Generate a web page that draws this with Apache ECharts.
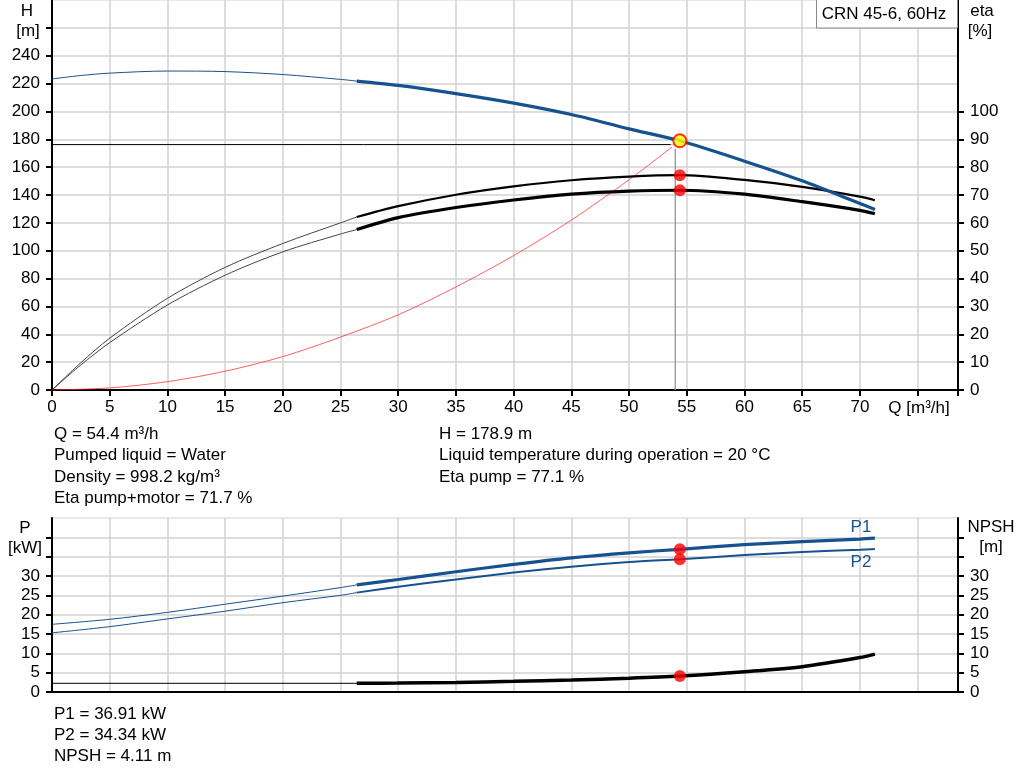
<!DOCTYPE html>
<html><head><meta charset="utf-8">
<script src="https://cdn.jsdelivr.net/npm/echarts@6/dist/echarts.min.js"></script>
<style>html,body{margin:0;padding:0;background:#fff}#c{width:1024px;height:781px}</style>
</head><body><div id="c"></div>
<script>
// ---- data ----
const qLow = [0, 2.5, 5, 10, 15, 20, 25, 26.4];
const qHigh = [26.4, 30, 35, 40, 45, 50, 54.4, 60, 65, 70, 71.3];
const headLow = [223.3, 225.8, 227.5, 229.0, 228.6, 226.5, 223.0, 221.8];
const headHigh = [221.8, 218.7, 212.8, 206.0, 197.8, 187.5, 178.9, 164.3, 150.2, 133.9, 129.6];
const etaPumpLow = [0, 9.8, 18.6, 32.9, 44.0, 52.6, 60.0, 62.1];
const etaPumpHigh = [62.1, 66.0, 70.1, 73.1, 75.3, 76.6, 77.1, 75.4, 72.9, 69.4, 68.1];
const etaTotLow = [0, 9.0, 17.0, 30.5, 41.2, 49.6, 56.0, 57.6];
const etaTotHigh = [57.6, 61.9, 65.5, 68.2, 70.3, 71.4, 71.7, 70.3, 67.6, 64.5, 63.3];
const qSys = [0, 5, 10, 15, 20, 25, 30, 35, 40, 45, 50, 54.2];
const hSys = [0, 1.5, 6, 13.5, 24, 38, 54, 74, 96.5, 122, 151, 177.5];
const qPLow = [0, 5, 10, 15, 20, 25, 26.4];
const p1Low = [17.5, 18.8, 20.6, 22.7, 24.8, 27.0, 27.7];
const p1High = [27.7, 29.1, 31.1, 33.0, 34.7, 36.0, 36.91, 38.1, 38.9, 39.55, 39.8];
const p2Low = [15.3, 16.9, 18.9, 20.9, 23.1, 25.0, 25.7];
const p2High = [25.7, 27.2, 29.1, 30.9, 32.4, 33.6, 34.34, 35.4, 36.2, 36.8, 37.0];
const qNpshLow = [0, 26.4];
const npshLow = [2.25, 2.25];
const npshHigh = [2.25, 2.3, 2.45, 2.75, 3.1, 3.55, 4.11, 5.25, 6.55, 8.9, 9.8];
const duty = {q: 54.0, h: 176.2};
const op = {q: 54.4, h: 178.9, etaPump: 77.1, etaTot: 71.7, p1: 36.91, p2: 34.34, npsh: 4.11};
const infoLeft = ['Q = 54.4 m³/h', 'Pumped liquid = Water', 'Density = 998.2 kg/m³', 'Eta pump+motor = 71.7 %'];
const infoRight = ['H = 178.9 m', 'Liquid temperature during operation = 20 °C', 'Eta pump = 77.1 %'];
const infoBottom = ['P1 = 36.91 kW', 'P2 = 34.34 kW', 'NPSH = 4.11 m'];
const hTicks = [0,20,40,60,80,100,120,140,160,180,200,220,240,260];
const hLabels = [0,20,40,60,80,100,120,140,160,180,200,220,240];
const etaTicks = [0,10,20,30,40,50,60,70,80,90,100];
const pTicks = [0,5,10,15,20,25,30,35,40];
const pLabels = [0,5,10,15,20,25,30];

// ---- helpers ----
const zip = (xs, ys) => xs.map((x, i) => [x, ys[i]]);
const FONT = 'Liberation Sans, Arial, sans-serif';
const FS = 17;
const BLUE = '#15528f';
const GRIDC = '#d2d2d2';

function line(name, xi, yi, data, color, width, extra) {
  return Object.assign({
    name, type: 'line', xAxisIndex: xi, yAxisIndex: yi, data,
    showSymbol: false, symbol: 'none', smooth: 0.3, silent: true,
    lineStyle: {color, width}, z: 3
  }, extra || {});
}
function dot(xi, yi, pt, color, size, extra) {
  return Object.assign({
    type: 'scatter', xAxisIndex: xi, yAxisIndex: yi, data: [pt],
    symbolSize: size, itemStyle: {color}, z: 10, silent: true
  }, extra || {});
}
const axisLineStyle = {show: true, lineStyle: {color: '#000', width: 2}};
const tickStyle = {show: true, length: 6, lineStyle: {color: '#000', width: 2}};
const lab = {color: '#000', fontSize: FS, fontFamily: FONT};

const chart = echarts.init(document.getElementById('c'), null, {renderer: 'canvas'});

const graphics = [];
function txt(text, x, y, align, color) {
  graphics.push({type: 'text', silent: true, z: 100,
    style: {text, x, y, fill: color || '#000', font: FS + 'px ' + FONT,
      align: align || 'left', verticalAlign: 'middle', textAlign: align || 'left', textVerticalAlign: 'middle'}});
}
// title box
graphics.push({type: 'rect', z: 90, silent: true, shape: {x: 816.5, y: -1, width: 141, height: 29},
  style: {fill: '#fff', stroke: '#8a8a8a', lineWidth: 1}});
txt('CRN 45-6, 60Hz', 884, 14, 'center');
txt('H', 27, 11, 'center');
txt('[m]', 28, 31, 'center');
txt('eta', 982, 11, 'center');
txt('[%]', 980, 31, 'center');
txt('Q [m³/h]', 919, 408, 'center');
txt('P', 25, 528, 'center');
txt('[kW]', 25, 548, 'center');
txt('NPSH', 991, 527, 'center');
txt('[m]', 991, 547, 'center');
txt('P1', 861, 527, 'center', BLUE);
txt('P2', 861, 562, 'center', BLUE);
const rowY = [434.5, 455.8, 477, 498.3];
infoLeft.forEach((t, i) => txt(t, 54, rowY[i]));
infoRight.forEach((t, i) => txt(t, 439, rowY[i]));
[714, 735.3, 756.6].forEach((y, i) => txt(infoBottom[i], 54, y));

const option = {
  animation: false,
  backgroundColor: '#fff',
  grid: [
    {left: 52, top: 0, width: 906, height: 390, show: true, borderColor: GRIDC, borderWidth: 1, backgroundColor: 'transparent'},
    {left: 52, top: 518, width: 906, height: 174, show: true, borderColor: GRIDC, borderWidth: 1, backgroundColor: 'transparent'}
  ],
  xAxis: [
    {type: 'value', gridIndex: 0, min: 0, max: 78.5, interval: 5,
      axisLine: axisLineStyle, axisTick: tickStyle,
      axisLabel: Object.assign({margin: 9, formatter: v => (v <= 70 ? String(v) : '')}, lab),
      splitLine: {show: true, lineStyle: {color: GRIDC, width: 1.5}}},
    {type: 'value', gridIndex: 1, min: 0, max: 78.5, interval: 5,
      axisLine: axisLineStyle, axisTick: {show: false}, axisLabel: {show: false},
      splitLine: {show: true, lineStyle: {color: GRIDC, width: 1.5}}}
  ],
  yAxis: [
    {type: 'value', gridIndex: 0, position: 'left', min: 0, max: 280, interval: 20,
      axisLine: axisLineStyle, axisTick: Object.assign({customValues: hTicks}, tickStyle),
      axisLabel: Object.assign({margin: 12, customValues: hLabels, formatter: v => (v <= 240 ? String(v) : '')}, lab),
      splitLine: {show: true, lineStyle: {color: GRIDC, width: 1.5}}},
    {type: 'value', gridIndex: 0, position: 'right', min: 0, max: 140, interval: 10,
      axisLine: axisLineStyle, axisTick: Object.assign({customValues: etaTicks}, tickStyle),
      axisLabel: Object.assign({margin: 12, customValues: etaTicks, formatter: v => (v <= 100 ? String(v) : '')}, lab),
      splitLine: {show: false}},
    {type: 'value', gridIndex: 1, position: 'left', min: 0, max: 45, interval: 5,
      axisLine: axisLineStyle, axisTick: Object.assign({customValues: pTicks}, tickStyle),
      axisLabel: Object.assign({margin: 12, customValues: pLabels, formatter: v => (v <= 30 ? String(v) : '')}, lab),
      splitLine: {show: true, lineStyle: {color: GRIDC, width: 1.5}}},
    {type: 'value', gridIndex: 1, position: 'right', min: 0, max: 45, interval: 5,
      axisLine: axisLineStyle, axisTick: Object.assign({customValues: pTicks}, tickStyle),
      axisLabel: Object.assign({margin: 12, customValues: pLabels, formatter: v => (v <= 30 ? String(v) : '')}, lab),
      splitLine: {show: false}}
  ],
  series: [
    // duty lines
    line('dutyH', 0, 0, [[0, duty.h], [duty.q, duty.h]], '#000', 1, {smooth: false, z: 2}),
    line('dutyV', 0, 0, [[duty.q, duty.h], [duty.q, 0]], '#8c8c8c', 1.2, {smooth: false, z: 2}),
    // system curve
    line('sys', 0, 0, zip(qSys, hSys), 'rgba(255,40,40,0.75)', 1, {smooth: 0.3, z: 2}),
    // efficiencies
    line('etaPumpLow', 0, 1, zip(qLow, etaPumpLow), '#444', 1),
    line('etaPumpHigh', 0, 1, zip(qHigh, etaPumpHigh), '#000', 2.2),
    line('etaTotLow', 0, 1, zip(qLow, etaTotLow), '#444', 1),
    line('etaTotHigh', 0, 1, zip(qHigh, etaTotHigh), '#000', 3.2),
    // head
    line('hLow', 0, 0, zip(qLow, headLow), BLUE, 1),
    line('hHigh', 0, 0, zip(qHigh, headHigh), BLUE, 3.2, {z: 4}),
    // power
    line('p1Low', 1, 2, zip(qPLow, p1Low), BLUE, 1),
    line('p1High', 1, 2, zip(qHigh, p1High), BLUE, 3.2),
    line('p2Low', 1, 2, zip(qPLow, p2Low), BLUE, 1),
    line('p2High', 1, 2, zip(qHigh, p2High), BLUE, 2),
    line('npshLow', 1, 3, zip(qNpshLow, npshLow), '#000', 1, {smooth: false}),
    line('npshHigh', 1, 3, zip(qHigh, npshHigh), '#000', 3.5),
    // markers
    dot(0, 0, [duty.q, duty.h], 'transparent', 9, {symbol: 'emptyCircle',
      itemStyle: {color: 'rgba(0,0,0,0)', borderColor: 'rgba(255,0,0,0.6)', borderWidth: 1, borderType: 'dashed'}}),
    dot(0, 1, [op.q, op.etaPump], '#ff0000', 12),
    dot(0, 1, [op.q, op.etaTot], '#ff0000', 12),
    dot(0, 0, [op.q, op.h], '#ffff00', 13, {itemStyle: {color: '#ffff00', borderColor: '#ff0000', borderWidth: 2}, z: 11}),
    dot(1, 2, [op.q, op.p1], '#ff0000', 12),
    dot(1, 2, [op.q, op.p2], '#ff0000', 12),
    dot(1, 3, [op.q, op.npsh], '#ff0000', 12)
  ],
  graphic: graphics
};
chart.setOption(option);
</script>
</body></html>
